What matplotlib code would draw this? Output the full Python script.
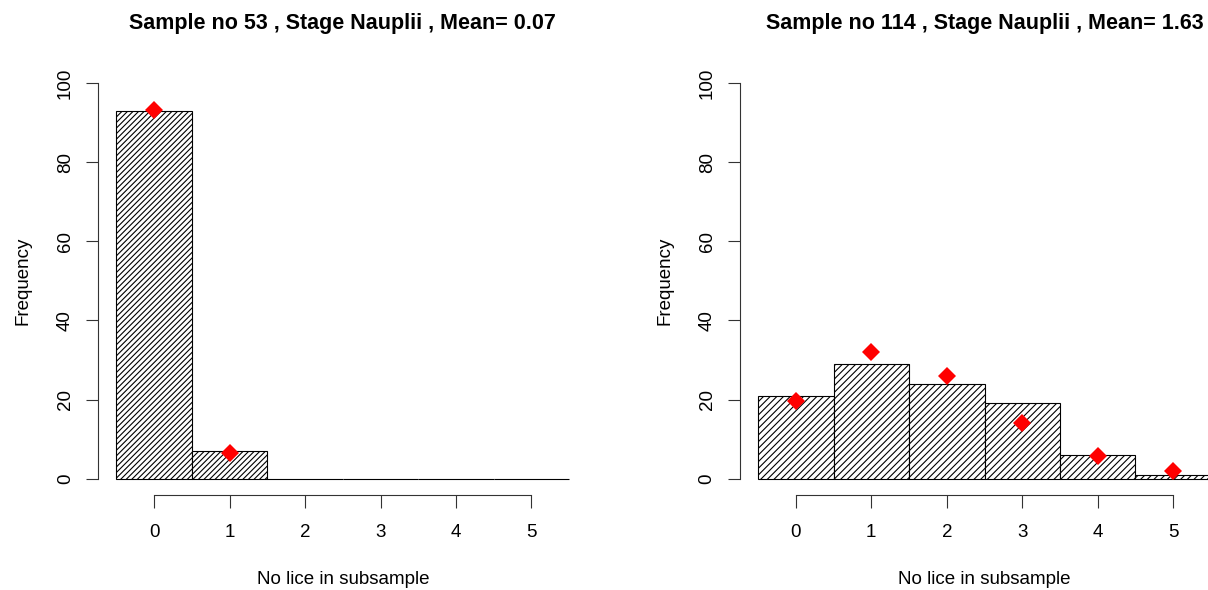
import matplotlib
matplotlib.use("Agg")
import matplotlib.pyplot as plt

plt.rcParams['font.family'] = ['Liberation Sans', 'DejaVu Sans']
plt.rcParams['hatch.linewidth'] = 0.8

# ---- data ----
bins = [0, 1, 2, 3, 4, 5]
tick_labels = ["0", "1", "2", "3", "4", "5"]
y_ticks = [0, 20, 40, 60, 80, 100]

left_title = "Sample no 53 , Stage Nauplii , Mean= 0.07"
left_counts = [93, 7, 0, 0, 0, 0]
left_exp_x = [0, 1]
left_expected = [93.2, 6.5]

right_title = "Sample no 114 , Stage Nauplii , Mean= 1.63"
right_counts = [21, 29, 24, 19, 6, 1]
right_exp_x = [0, 1, 2, 3, 4, 5]
right_expected = [19.6, 31.9, 26.0, 14.1, 5.8, 1.9]

xlabel = "No lice in subsample"
ylabel = "Frequency"

W, H = 1208, 590
fig = plt.figure(figsize=(W / 100, H / 100), dpi=100)

ax_w = 489 / W
ax_h = 427.5 / H
ax_b = 95.5 / H
lefts = [98.3 / W, 740 / W]

panels = [
    (left_title, left_counts, left_exp_x, left_expected, '//////'),
    (right_title, right_counts, right_exp_x, right_expected, '/////'),
]

for i, (title, counts, ex, ey, hatch) in enumerate(panels):
    ax = fig.add_axes([lefts[i], ax_b, ax_w, ax_h])
    ax.bar(bins, counts, width=1.0, align='center', facecolor='white',
           edgecolor='black', linewidth=0.8, hatch=hatch)
    ax.plot(ex, ey, linestyle='none', marker='D', markersize=9,
            color='#ff0000', markeredgewidth=0, zorder=5)
    ax.set_xlim(-0.74, 5.74)
    ax.set_ylim(-4, 104)
    for s in ['top', 'right']:
        ax.spines[s].set_visible(False)
    ax.spines['left'].set_bounds(0, 100)
    ax.spines['bottom'].set_bounds(0, 5)
    for s in ['left', 'bottom']:
        ax.spines[s].set_linewidth(0.8)
        ax.spines[s].set_color('#333333')
    ax.set_xticks(bins)
    ax.set_xticklabels(tick_labels)
    ax.set_yticks(y_ticks)
    ax.set_yticklabels([str(v) for v in y_ticks], rotation=90, va='center')
    ax.tick_params(axis='both', direction='out', length=9, width=0.8,
                   color='#333333', labelsize=13.5)
    ax.tick_params(axis='x', pad=12)
    ax.tick_params(axis='y', pad=8.5)
    cx = lefts[i] + ax_w / 2
    fig.text(cx, 1 - 29 / H, title, ha='center', va='baseline',
             fontsize=15.5, fontweight='bold')
    fig.text(cx, 1 - 584 / H, xlabel, ha='center', va='baseline', fontsize=13.5)
    fig.text((lefts[i] * W - 75) / W, ax_b + (4 + 50) / 108 * ax_h, ylabel,
             ha='center', va='center', rotation=90, fontsize=13.5)

fig.savefig("out.png", dpi=100)
